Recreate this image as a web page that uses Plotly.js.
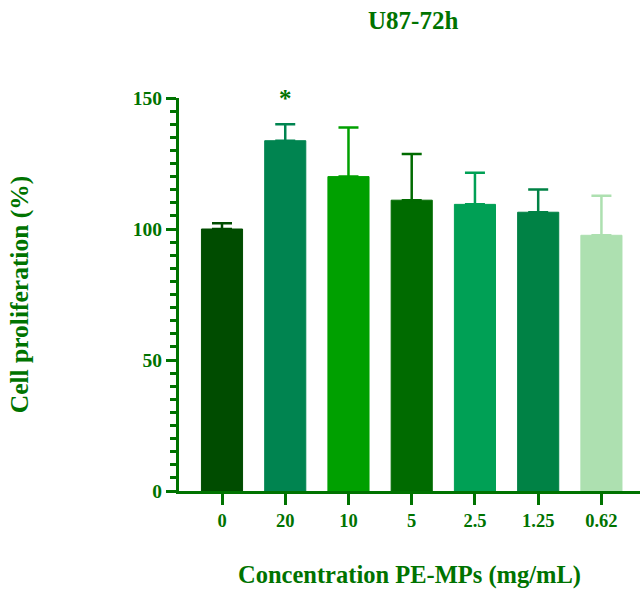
<!DOCTYPE html>
<html>
<head>
<meta charset="utf-8">
<script src="https://cdn.plot.ly/plotly-3.0.1.min.js"></script>
<style>html,body{margin:0;padding:0;background:#fff;}#chart{width:643px;height:589px;}</style>
</head>
<body>
<div id="chart"></div>
<script>
const categories = ['0', '20', '10', '5', '2.5', '1.25', '0.62'];
const values = [100, 133.7, 120, 111, 109.4, 106.4, 97.6];
const errors = [2.2, 6.3, 18.7, 17.6, 12.1, 8.7, 15.1];
const barColors = ['#004c00', '#008450', '#00a000', '#006b00', '#00a055', '#008245', '#ade0b0'];
const yTickVals = [0, 50, 100, 150];

const green = '#007300';
const serif = 'Liberation Serif, Times New Roman, serif';

const traces = categories.map((c, i) => ({
  type: 'bar',
  x: [c],
  y: [values[i]],
  width: 0.65,
  marker: {color: barColors[i], line: {color: barColors[i], width: 1}},
  error_y: {type: 'data', symmetric: false, array: [errors[i]], arrayminus: [0],
            color: barColors[i], thickness: 2.5, width: 10},
  showlegend: false,
  hoverinfo: 'skip'
}));

const layout = {
  width: 643, height: 589,
  margin: {l: 179, r: 3, t: 98, b: 98},
  paper_bgcolor: '#fff', plot_bgcolor: '#fff',
  barmode: 'overlay',
  title: {text: 'U87-72h', x: 0.508, xref: 'paper', xanchor: 'center', y: 0.966, yanchor: 'middle',
          font: {family: serif, size: 25, color: green, weight: 'bold'}},
  xaxis: {
    type: 'category', categoryorder: 'array', categoryarray: categories,
    range: [-0.68, 6.61],
    showline: true, linecolor: green, linewidth: 3,
    ticks: 'outside', ticklen: 11, tickwidth: 3, tickcolor: green,
    showgrid: false, zeroline: false,
    tickfont: {family: serif, size: 18.5, color: green, weight: 'bold'},
    title: {text: 'Concentration PE-MPs (mg/mL)', standoff: 36,
            font: {family: serif, size: 24.5, color: green, weight: 'bold'}}
  },
  yaxis: {
    range: [0, 150], tickvals: yTickVals,
    showline: true, linecolor: green, linewidth: 3,
    ticks: 'outside', ticklen: 10, tickwidth: 3, tickcolor: green,
    minor: {dtick: 5, ticklen: 6, tickwidth: 3, tickcolor: green, ticks: 'outside', showgrid: false},
    showgrid: false, zeroline: false,
    tickfont: {family: serif, size: 19.5, color: green, weight: 'bold'},
    title: {text: 'Cell proliferation (%)', standoff: 97,
            font: {family: serif, size: 25.5, color: green, weight: 'bold'}}
  },
  annotations: [{
    x: 1, y: 148, xref: 'x', yref: 'y', text: '*', showarrow: false,
    yanchor: 'middle', yshift: 5,
    font: {family: serif, size: 25, color: green, weight: 'bold'}
  }]
};

Plotly.newPlot('chart', traces, layout, {displayModeBar: false, staticPlot: true});
</script>
</body>
</html>
